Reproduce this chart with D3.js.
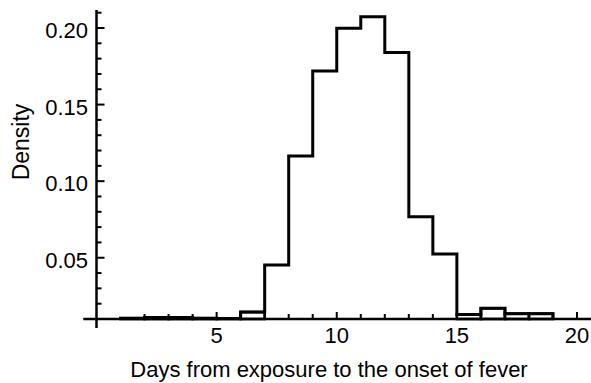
<!DOCTYPE html>
<html>
<head>
<meta charset="utf-8">
<script src="https://cdn.jsdelivr.net/npm/d3@7"></script>
<style>
  body { margin: 0; background: #fff; }
  svg { display: block; font-family: "Liberation Sans", Arial, sans-serif; }
</style>
</head>
<body>
<svg id="chart" width="591" height="383"></svg>
<script>
// histogram of days from exposure to onset of fever
var binEdges = [1, 2, 3, 4, 5, 6, 7, 8, 9, 10, 11, 12, 13, 14, 15, 16, 17, 18, 19];
var densities = [0.0105, 0.011, 0.011, 0.0105, 0.0103, 0.0145, 0.0453, 0.1165, 0.172,
                 0.1998, 0.2073, 0.184, 0.0768, 0.0524, 0.013, 0.017, 0.0135, 0.0135];

var xTicks = [2, 3, 4, 5, 6, 7, 8, 9, 10, 11, 12, 13, 14, 15, 16, 17, 18, 19, 20];
var xMajor = [5, 10, 15, 20];
var yTicks = [0.02, 0.03, 0.04, 0.05, 0.06, 0.07, 0.08, 0.09, 0.10, 0.11,
              0.12, 0.13, 0.14, 0.15, 0.16, 0.17, 0.18, 0.19, 0.20, 0.21];
var yMajor = [0.05, 0.10, 0.15, 0.20];

var axisOriginY = 0.01;
var xRange = [-0.55, 20.7];
var yRange = [0.0042, 0.2117];

(function () {
    "use strict";

    var svg = d3.select("#chart");

    var x = d3.scaleLinear().domain([0, 20]).range([96.5, 577]);
    var y = d3.scaleLinear().domain([0.01, 0.20]).range([319, 28]);

    var base = y(axisOriginY);

    // outline of the histogram as one step path
    var pts = [[x(binEdges[0]), base]];
    densities.forEach(function (v, i) {
        pts.push([x(binEdges[i]), y(v)]);
        pts.push([x(binEdges[i + 1]), y(v)]);
    });
    pts.push([x(binEdges[binEdges.length - 1]), base]);

    svg.append("path")
        .attr("d", d3.line()(pts))
        .attr("fill", "none")
        .attr("stroke", "#000")
        .attr("stroke-width", 3)
        .attr("stroke-linejoin", "miter");

    // the low bars show as separate boxes
    svg.append("g")
        .selectAll("rect")
        .data(densities.map(function (v, i) { return { v: v, i: i }; })
            .filter(function (d) { return d.v < 0.02; }))
        .join("rect")
        .attr("x", function (d) { return x(binEdges[d.i]); })
        .attr("y", function (d) { return y(d.v); })
        .attr("width", function (d) { return x(binEdges[d.i + 1]) - x(binEdges[d.i]); })
        .attr("height", function (d) { return base - y(d.v); })
        .attr("fill", "none")
        .attr("stroke", "#000")
        .attr("stroke-width", 2.6);

    var axes = svg.append("g").attr("stroke", "#000");

    axes.append("line")
        .attr("x1", x(xRange[0])).attr("x2", x(xRange[1]))
        .attr("y1", base).attr("y2", base)
        .attr("stroke-width", 2.5);

    axes.append("line")
        .attr("x1", x(0)).attr("x2", x(0))
        .attr("y1", y(yRange[1])).attr("y2", y(yRange[0]))
        .attr("stroke-width", 2.5);

    axes.selectAll("line.xt")
        .data(xTicks)
        .join("line")
        .attr("class", "xt")
        .attr("x1", function (d) { return x(d); })
        .attr("x2", function (d) { return x(d); })
        .attr("y1", base)
        .attr("y2", function (d) { return base - (xMajor.indexOf(d) >= 0 ? 7 : 5); })
        .attr("stroke-width", 2);

    axes.selectAll("line.yt")
        .data(yTicks)
        .join("line")
        .attr("class", "yt")
        .attr("x1", x(0))
        .attr("x2", function (d) {
            var major = yMajor.some(function (m) { return Math.abs(m - d) < 1e-9; });
            return x(0) + (major ? 8 : 5);
        })
        .attr("y1", function (d) { return y(d); })
        .attr("y2", function (d) { return y(d); })
        .attr("stroke-width", 2);

    svg.append("g")
        .selectAll("text")
        .data(xMajor)
        .join("text")
        .attr("x", function (d) { return x(d); })
        .attr("y", 343)
        .attr("text-anchor", "middle")
        .attr("font-size", 22)
        .text(function (d) { return d; });

    svg.append("g")
        .selectAll("text")
        .data(yMajor)
        .join("text")
        .attr("x", 88)
        .attr("y", function (d) { return y(d) + 10; })
        .attr("text-anchor", "end")
        .attr("font-size", 22)
        .text(function (d) { return d.toFixed(2); });

    svg.append("text")
        .attr("x", 329)
        .attr("y", 377)
        .attr("text-anchor", "middle")
        .attr("font-size", 22)
        .text("Days from exposure to the onset of fever");

    svg.append("text")
        .attr("transform", "translate(28.5,142) rotate(-90)")
        .attr("text-anchor", "middle")
        .attr("font-size", 23)
        .text("Density");
})();
</script>
</body>
</html>
